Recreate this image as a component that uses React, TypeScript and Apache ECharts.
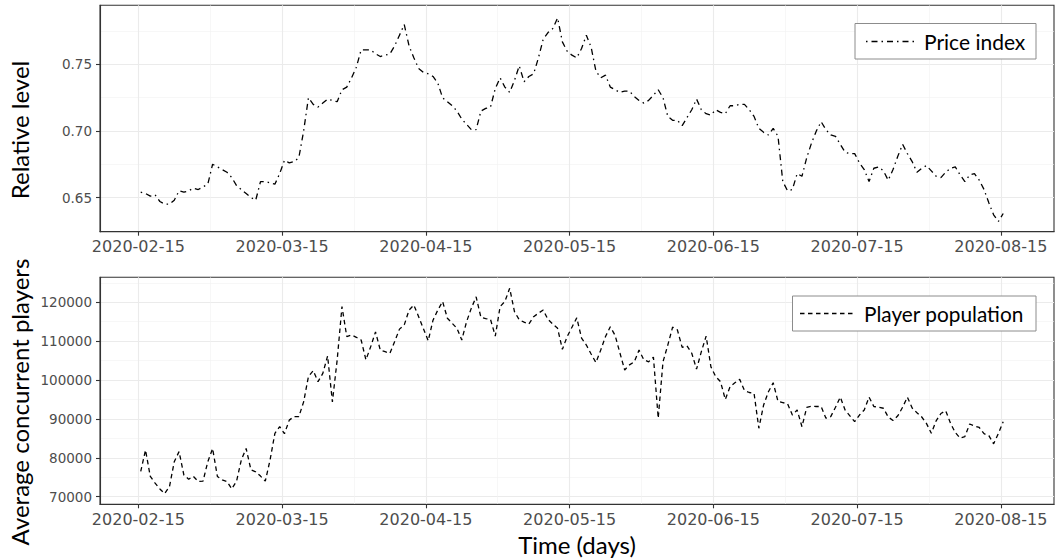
import React, { useEffect, useRef } from "react";
import * as echarts from "echarts";

const tickLabels = ["2020-02-15", "2020-03-15", "2020-04-15", "2020-05-15", "2020-06-15", "2020-07-15", "2020-08-15"];
const tickDays = [-0.5, 29.5, 59.5, 89.5, 119.5, 149.5, 179.5];
const minorDays = [14.5, 44.5, 74.5, 104.5, 134.5, 164.5];

const priceTicks = [0.65, 0.7, 0.75];
const priceMinor = [0.625, 0.675, 0.725, 0.775];
const playerTicks = [70000, 80000, 90000, 100000, 110000, 120000];
const playerMinor = [75000, 85000, 95000, 105000, 115000, 125000];

const priceIndex = [
  0.654, 0.653, 0.651, 0.652, 0.647, 0.645, 0.645, 0.648, 0.655, 0.654,
  0.655, 0.657, 0.656, 0.658, 0.660, 0.675, 0.673, 0.671, 0.669, 0.665,
  0.659, 0.656, 0.653, 0.650, 0.648, 0.662, 0.662, 0.661, 0.660, 0.668,
  0.678, 0.676, 0.677, 0.680, 0.700, 0.725, 0.720, 0.718, 0.721, 0.724,
  0.723, 0.722, 0.731, 0.733, 0.740, 0.748, 0.761, 0.761, 0.761, 0.758,
  0.756, 0.757, 0.758, 0.764, 0.772, 0.780, 0.764, 0.755, 0.747, 0.744,
  0.743, 0.741, 0.736, 0.725, 0.722, 0.719, 0.715, 0.709, 0.705, 0.701,
  0.701, 0.715, 0.717, 0.718, 0.732, 0.740, 0.733, 0.729, 0.738, 0.749,
  0.737, 0.741, 0.743, 0.755, 0.769, 0.774, 0.777, 0.785, 0.767, 0.760,
  0.757, 0.755, 0.762, 0.772, 0.763, 0.745, 0.740, 0.742, 0.733, 0.731,
  0.729, 0.730, 0.730, 0.726, 0.723, 0.721, 0.723, 0.727, 0.731, 0.725,
  0.711, 0.708, 0.708, 0.704, 0.710, 0.716, 0.724, 0.716, 0.713, 0.712,
  0.716, 0.714, 0.713, 0.719, 0.719, 0.720, 0.720, 0.716, 0.711, 0.702,
  0.699, 0.697, 0.702, 0.696, 0.662, 0.655, 0.656, 0.668, 0.666, 0.680,
  0.691, 0.700, 0.707, 0.701, 0.697, 0.696, 0.690, 0.684, 0.683, 0.683,
  0.676, 0.671, 0.662, 0.672, 0.673, 0.670, 0.663, 0.671, 0.681, 0.690,
  0.683, 0.677, 0.669, 0.672, 0.674, 0.670, 0.666, 0.665, 0.669, 0.672,
  0.673, 0.667, 0.662, 0.667, 0.668, 0.663, 0.656, 0.646, 0.637, 0.632,
  0.638,
];

const playerPopulation = [
  76500, 82000, 75200, 73500, 72000, 70800, 72600, 79000, 81600, 75600,
  74500, 75200, 73900, 74000, 79000, 82400, 75200, 74300, 73900, 72000,
  74000, 79500, 82400, 76900, 76400, 75300, 74000, 79500, 86300, 88000,
  86200, 89700, 90600, 90600, 94400, 100900, 102400, 99600, 101700, 106200,
  94400, 105200, 118900, 111200, 111600, 111000, 110300, 105200, 108600, 112400,
  107700, 107300, 106900, 109900, 113100, 114200, 118000, 119300, 116300, 113200,
  110100, 115400, 118000, 120200, 115900, 114600, 113300, 110300, 115000, 118500,
  121400, 116100, 115800, 115600, 111300, 118900, 120200, 123600, 117600, 115500,
  114900, 114400, 116300, 117200, 118000, 115600, 114400, 113300, 107900, 111200,
  113600, 116000, 110800, 109000, 106700, 104500, 107700, 111200, 113700, 111500,
  107000, 102600, 103900, 104700, 107700, 105200, 104700, 105900, 90200, 104700,
  109000, 113600, 112900, 108400, 108800, 106900, 102800, 107300, 111300, 103400,
  100900, 99600, 95000, 98300, 99300, 100200, 97300, 96800, 96600, 87600,
  93600, 97000, 99300, 94500, 94200, 93900, 91000, 92300, 88000, 93000,
  93300, 93200, 93200, 90200, 90600, 93000, 95600, 92300, 90800, 89300,
  91000, 92300, 95600, 93200, 93000, 92750, 90500, 89600, 90800, 93000,
  95600, 92800, 91600, 90500, 88800, 86300, 89500, 91400, 92100, 88900,
  86500, 85100, 85450, 88700, 88200, 87800, 86200, 85700, 83600, 86300,
  89300,
];

const TICK_FONT = "DejaVu Sans";
const TITLE_FONT = "Lato";
const priceDash = [1.5, 4, 6, 4];
const playerDash = [4.5, 3.5];

export default function App() {
  const ref = useRef<HTMLDivElement>(null);

  useEffect(() => {
    const el = ref.current!;
    const chart = echarts.init(el, null, { renderer: "svg" });
    const xMin = -8.5;
    const xMax = 190.6;
    const labelOf = (v: number) => {
      const k = tickDays.findIndex((d) => Math.abs(d - v) < 0.01);
      return k >= 0 ? tickLabels[k] : "";
    };
    const major = { color: "#ebebeb", width: 1.1 };
    const minor = { color: "#f2f2f2", width: 0.6 };
    const dark = { color: "#333333", width: 1.1 };

    const mainX = (gridIndex: number, name?: string) => ({
      type: "value",
      gridIndex,
      min: xMin,
      max: xMax,
      name: name || "",
      nameLocation: "middle",
      nameGap: 28,
      nameTextStyle: { fontSize: 24, fontFamily: TITLE_FONT, color: "#000" },
      axisLine: { show: true, onZero: false, lineStyle: dark },
      axisTick: { show: true, length: 4, lineStyle: dark, customValues: tickDays },
      axisLabel: {
        show: true,
        customValues: tickDays,
        formatter: labelOf,
        color: "#4d4d4d",
        fontSize: 16,
        fontFamily: TICK_FONT,
        margin: 7,
      },
      splitLine: { show: true, lineStyle: major, customValues: tickDays },
    });
    const minorX = (gridIndex: number) => ({
      type: "value",
      gridIndex,
      position: "top",
      min: xMin,
      max: xMax,
      axisLine: { show: false },
      axisTick: { show: false, customValues: minorDays },
      axisLabel: { show: false, customValues: minorDays },
      splitLine: { show: true, lineStyle: minor, customValues: minorDays },
    });
    const mainY = (gridIndex: number, min: number, max: number, ticks: number[], fmt: (v: number) => string) => ({
      type: "value",
      gridIndex,
      min,
      max,
      axisLine: { show: true, onZero: false, lineStyle: dark },
      axisTick: { show: true, length: 4, lineStyle: dark, customValues: ticks },
      axisLabel: {
        show: true,
        customValues: ticks,
        formatter: fmt,
        color: "#4d4d4d",
        fontSize: 13.5,
        fontFamily: TICK_FONT,
        margin: 8,
      },
      splitLine: { show: true, lineStyle: major, customValues: ticks },
    });
    const minorY = (gridIndex: number, min: number, max: number, ticks: number[]) => ({
      type: "value",
      gridIndex,
      position: "right",
      min,
      max,
      axisLine: { show: false },
      axisTick: { show: false, customValues: ticks },
      axisLabel: { show: false, customValues: ticks },
      splitLine: { show: true, lineStyle: minor, customValues: ticks },
    });

    const option: any = {
      animation: false,
      backgroundColor: "#ffffff",
      grid: [
        { left: 100, right: 5, top: 5.3, height: 226.4, show: true, borderColor: "#333333", borderWidth: 1.1, backgroundColor: "transparent" },
        { left: 100, right: 5, top: 277.3, height: 227, show: true, borderColor: "#333333", borderWidth: 1.1, backgroundColor: "transparent" },
      ],
      xAxis: [mainX(0), minorX(0), mainX(1, "Time (days)"), minorX(1)],
      yAxis: [
        mainY(0, 0.6243, 0.7945, priceTicks, (v: number) => v.toFixed(2)),
        minorY(0, 0.6243, 0.7945, priceMinor),
        mainY(1, 68045, 126430, playerTicks, (v: number) => String(Math.round(v))),
        minorY(1, 68045, 126430, playerMinor),
      ],
      series: [
        {
          name: "Price index",
          type: "line",
          xAxisIndex: 0,
          yAxisIndex: 0,
          data: priceIndex.map((v, i) => [i, v]),
          showSymbol: false,
          symbol: "none",
          silent: true,
          z: 5,
          lineStyle: { color: "#000000", width: 1.3, type: priceDash },
        },
        {
          name: "Player population",
          type: "line",
          xAxisIndex: 2,
          yAxisIndex: 2,
          data: playerPopulation.map((v, i) => [i, v]),
          showSymbol: false,
          symbol: "none",
          silent: true,
          z: 5,
          lineStyle: { color: "#000000", width: 1.3, type: playerDash },
        },
      ],
      graphic: [
        { type: "text", x: 19, y: 130, rotation: Math.PI / 2, style: { text: "Relative level", fontSize: 24, fontFamily: TITLE_FONT, fill: "#000", align: "center", verticalAlign: "middle" } },
        { type: "text", x: 19, y: 402, rotation: Math.PI / 2, style: { text: "Average concurrent players", fontSize: 24, fontFamily: TITLE_FONT, fill: "#000", align: "center", verticalAlign: "middle" } },
        { type: "rect", z: 100, shape: { x: 855, y: 23.5, width: 181, height: 35.5 }, style: { fill: "#ffffff", stroke: "#8c8c8c", lineWidth: 1 } },
        { type: "line", z: 101, shape: { x1: 866, y1: 41.5, x2: 917, y2: 41.5 }, style: { stroke: "#000", lineWidth: 1.3, lineDash: priceDash } },
        { type: "text", z: 101, x: 924, y: 41.5, style: { text: "Price index", fontSize: 21, fontFamily: TITLE_FONT, fill: "#000", verticalAlign: "middle" } },
        { type: "rect", z: 100, shape: { x: 792.5, y: 296, width: 243.5, height: 35 }, style: { fill: "#ffffff", stroke: "#8c8c8c", lineWidth: 1 } },
        { type: "line", z: 101, shape: { x1: 800, y1: 313.5, x2: 855, y2: 313.5 }, style: { stroke: "#000", lineWidth: 1.3, lineDash: playerDash } },
        { type: "text", z: 101, x: 864, y: 313.5, style: { text: "Player population", fontSize: 20.8, fontFamily: TITLE_FONT, fill: "#000", verticalAlign: "middle" } },
      ],
    };
    chart.setOption(option);
    return () => chart.dispose();
  }, []);

  return <div ref={ref} style={{ position: "absolute", left: 0, top: 0, width: 1059, height: 559 }} />;
}
